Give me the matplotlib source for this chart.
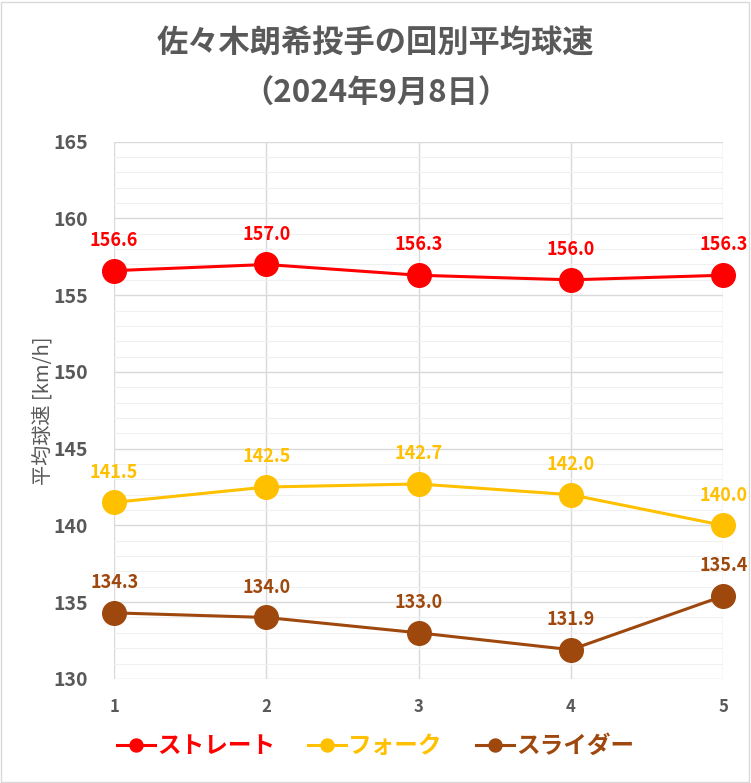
import matplotlib.pyplot as plt
from matplotlib.patches import Rectangle

plt.rcParams['font.family'] = ['Noto Sans CJK JP', 'DejaVu Sans']

innings = [1, 2, 3, 4, 5]
straight = [156.6, 157.0, 156.3, 156.0, 156.3]
fork = [141.5, 142.5, 142.7, 142.0, 140.0]
slider = [134.3, 134.0, 133.0, 131.9, 135.4]

series = [
    ('ストレート', straight, '#FF0000'),
    ('フォーク', fork, '#FFC000'),
    ('スライダー', slider, '#9E480E'),
]

gray = '#595959'

fig = plt.figure(figsize=(7.51, 7.83), dpi=100)
ax = fig.add_axes([0.152, 0.133, 0.811, 0.686])

for name, vals, col in series:
    ax.plot(innings, vals, color=col, linewidth=2.2, marker='o', markersize=17,
            label=name, clip_on=False, zorder=3)
    for x, v in zip(innings, vals):
        ax.annotate(f'{v:.1f}', (x, v), xytext=(0, 15), textcoords='offset points',
                    ha='center', va='bottom', color=col, fontsize=13, fontweight='bold')

ax.set_xlim(1, 5)
ax.set_ylim(130, 165)
ax.set_xticks(innings)
ax.set_yticks(range(130, 166, 5))
ax.set_yticks(range(130, 166, 1), minor=True)
ax.grid(which='major', color='#D9D9D9', linewidth=1)
ax.grid(which='minor', axis='y', color='#F0F0F0', linewidth=0.8)
ax.set_axisbelow(True)
for s in ax.spines.values():
    s.set_visible(False)
ax.tick_params(which='both', length=0)
ax.tick_params(axis='y', pad=19)
ax.tick_params(axis='x', pad=14)
for lab in ax.get_yticklabels():
    lab.set_fontsize(14)
for lab in ax.get_xticklabels():
    lab.set_fontsize(12)
for lab in ax.get_xticklabels() + ax.get_yticklabels():
    lab.set_fontweight('bold')
    lab.set_color(gray)
ax.set_ylabel('平均球速 [km/h]', color=gray, fontsize=14.5, labelpad=0)

fig.text(0.5, 0.946, '佐々木朗希投手の回別平均球速', ha='center', va='center',
         fontsize=22.5, fontweight='bold', color=gray)
fig.text(0.5, 0.880, '（2024年9月8日）', ha='center', va='center',
         fontsize=22.5, fontweight='bold', color=gray)

leg = fig.legend(loc='center', bbox_to_anchor=(0.5, 0.047), ncol=3, frameon=False,
                 fontsize=17, markerscale=0.55, handlelength=1.6, columnspacing=1.4,
                 handletextpad=0.1)
for text, (_, _, col) in zip(leg.get_texts(), series):
    text.set_color(col)
    text.set_fontweight('bold')

fig.patches.append(Rectangle((0.001, 0.001), 0.997, 0.997, transform=fig.transFigure,
                             fill=False, edgecolor='#D9D9D9', linewidth=1))

fig.savefig('out.png', dpi=100)
